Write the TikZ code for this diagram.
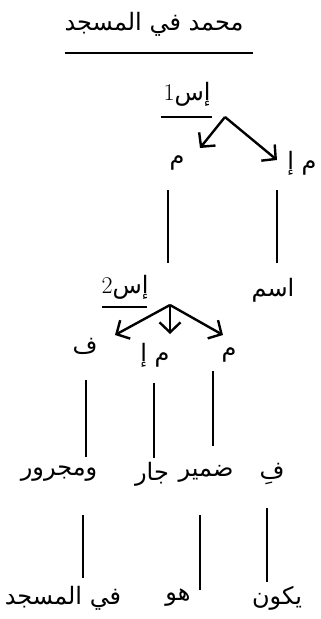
\documentclass[tikz,border=0pt]{standalone}
\usepackage{fontspec}
\usetikzlibrary{arrows.meta}
\newfontfamily\arabicfont[Script=Arabic]{DejaVu Sans}
\TeXXeTstate=1
\newcommand{\ar}[1]{{\arabicfont\beginR #1\endR}}

\begin{document}
\begin{tikzpicture}[
  x=1pt, y=-1pt,
  every node/.style={inner sep=0pt, font=\fontsize{24}{28}\selectfont},
  arr/.style={line width=2.4pt, -{Straight Barb[length=10pt, width=21pt, line width=2.4pt]}},
  stem/.style={line width=1.7pt},
  rule/.style={line width=2pt},
]
  \useasboundingbox (0,0) rectangle (321,619);

  % Title
  \node (title) at (154,24) {\ar{محمد في المسجد}};
  \draw[rule] (65,53) -- (253,53);

  % First split
  \node (es1) at (187,94) {1\ar{إس}};
  \draw[rule] (161,117) -- (212,117);
  \coordinate (top1) at (225,117);
  \coordinate (tip1l) at (200,148);
  \coordinate (tip1r) at (277,160);
  \draw[arr] (top1) -- (tip1l);
  \draw[arr] (top1) -- (tip1r);
  \node (m1) at (177,163) {\ar{م}};
  \node (mh1) at (302,163) {\ar{م إ}};
  \node (ism) at (273,290) {\ar{اسم}};

  % Second split
  \node (es2) at (125,287) {2\ar{إس}};
  \draw[rule] (102,307) -- (147,307);
  \coordinate (top2) at (170,305);
  \coordinate (tip2l) at (115,335);
  \coordinate (tip2m) at (170,334);
  \coordinate (tip2r) at (223,335);
  \draw[arr] (top2) -- (tip2l);
  \draw[arr] (top2) -- (tip2m);
  \draw[arr] (top2) -- (tip2r);
  \node (f) at (85,346) {\ar{ف}};
  \node (mh2) at (155,355) {\ar{م إ}};
  \node (m2) at (229,355) {\ar{م}};

  % Word classes
  \node (fi) at (272,474) {\ar{فِ}};
  \node (damir) at (206,474) {\ar{ضمير}};
  \node (jar) at (152,474) {\ar{جار}};
  \node (majrur) at (59,474) {\ar{ومجرور}};

  % Words
  \node (yakun) at (277,598) {\ar{يكون}};
  \node (huwa) at (178,598) {\ar{هو}};
  \node (fimasjid) at (63,598) {\ar{في المسجد}};

  % Stems
  \foreach \n/\x/\ya/\yb in {s1/168/190/263, s2/277/190/263,
      s3/86/380/457, s4/154/383/458, s5/213/371/446,
      s6/83/515/578, s7/200/515/590, s8/267/508/582} {
    \coordinate (\n a) at (\x,\ya);
    \coordinate (\n b) at (\x,\yb);
    \draw[stem] (\n a) -- (\n b);
  }
\end{tikzpicture}
\end{document}
